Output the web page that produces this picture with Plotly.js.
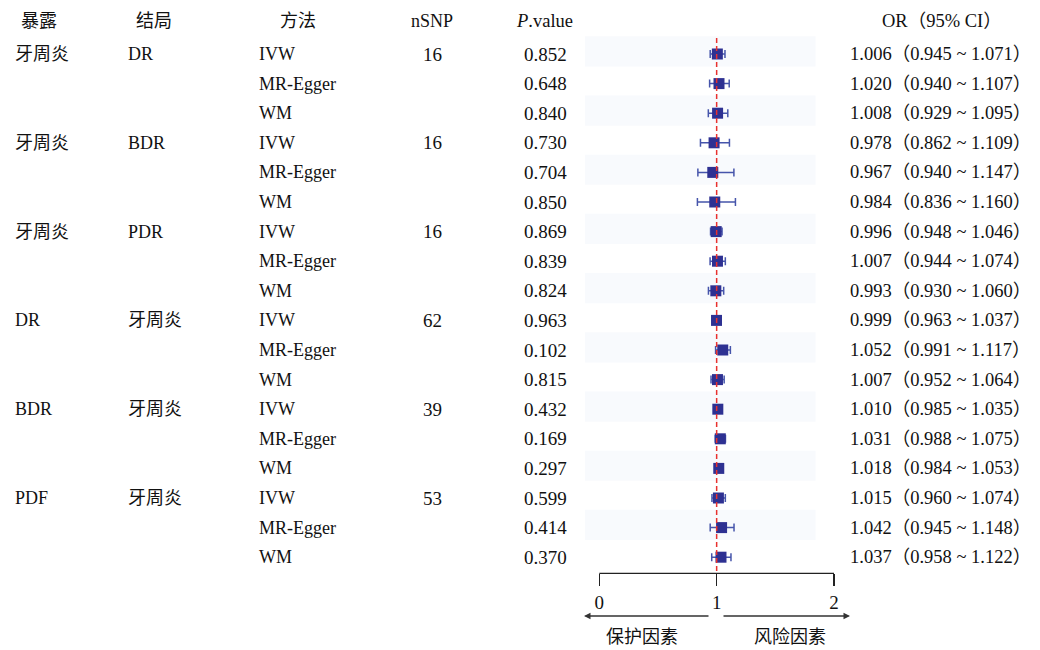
<!DOCTYPE html>
<html>
<head>
<meta charset="utf-8">
<script src="https://cdn.plot.ly/plotly-3.0.1.min.js"></script>
<style>
html,body{margin:0;padding:0;background:#fff;}
#chart{width:1040px;height:650px;}
</style>
</head>
<body>
<div id="chart"></div>
<script>
// ---------- data ----------
const headers = ['暴露', '结局', '方法', 'nSNP', '<i>P</i>.value', 'OR（95% CI）'];
const exposures = ['牙周炎', '牙周炎', '牙周炎', 'DR', 'BDR', 'PDF'];
const outcomes  = ['DR', 'BDR', 'PDR', '牙周炎', '牙周炎', '牙周炎'];
const nSNP      = [16, 16, 16, 62, 39, 53];
const methods   = ['IVW', 'MR-Egger', 'WM'];
const pValues   = ['0.852','0.648','0.840','0.730','0.704','0.850','0.869','0.839','0.824',
                   '0.963','0.102','0.815','0.432','0.169','0.297','0.599','0.414','0.370'];
const orLabels  = ['1.006（0.945 ~ 1.071）','1.020（0.940 ~ 1.107）','1.008（0.929 ~ 1.095）',
                   '0.978（0.862 ~ 1.109）','0.967（0.940 ~ 1.147）','0.984（0.836 ~ 1.160）',
                   '0.996（0.948 ~ 1.046）','1.007（0.944 ~ 1.074）','0.993（0.930 ~ 1.060）',
                   '0.999（0.963 ~ 1.037）','1.052（0.991 ~ 1.117）','1.007（0.952 ~ 1.064）',
                   '1.010（0.985 ~ 1.035）','1.031（0.988 ~ 1.075）','1.018（0.984 ~ 1.053）',
                   '1.015（0.960 ~ 1.074）','1.042（0.945 ~ 1.148）','1.037（0.958 ~ 1.122）'];
const orValue   = [1.006,1.020,1.008,0.978,0.967,0.984,0.996,1.007,0.993,0.999,1.052,1.007,1.010,1.031,1.018,1.015,1.042,1.037];
const ciLow     = [0.945,0.940,0.929,0.862,0.840,0.836,0.948,0.944,0.930,0.963,0.991,0.952,0.985,0.988,0.984,0.960,0.945,0.958];
const ciHigh    = [1.071,1.107,1.095,1.109,1.147,1.160,1.046,1.074,1.060,1.037,1.117,1.064,1.035,1.075,1.053,1.074,1.148,1.122];
const axisTicks = [0, 1, 2];
const bottomLabels = ['保护因素', '风险因素'];

// ---------- geometry ----------
const W = 1040, H = 650;
const px0 = 599.3, pxPerUnit = 117.35;      // x: pixel of value 0, pixels per unit
const row0 = 54, rowStep = 29.6;            // y: pixel of first row, row spacing
const xr = [(0 - px0) / pxPerUnit, (W - px0) / pxPerUnit];
const yr = [1 + (H - row0) / rowStep, 1 + (0 - row0) / rowStep];
const rowOfPx = p => 1 + (p - row0) / rowStep;
const xOfPx = p => (p - px0) / pxPerUnit;

const FONT = '"Liberation Serif", "Noto Sans CJK SC", serif';
const TXT = '#111111';
const rows = orValue.map((_, i) => i + 1);

const ann = [];
function txt(text, xpx, y, anchor, size, extra) {
  ann.push(Object.assign({
    text: text, xref: 'paper', yref: 'y', x: xpx / W, y: y,
    xanchor: anchor, yanchor: 'middle', showarrow: false,
    font: {family: FONT, size: size, color: TXT}
  }, extra || {}));
}

// headers
const headerY = rowOfPx(21);
const headerX = [38.7, 153.5, 298, 432, 544, 942];
const headerSize = [18, 18, 18, 18, 18.5, 18.5];
headers.forEach((h, k) => txt(h, headerX[k], headerY, 'center', headerSize[k]));

// group columns
exposures.forEach((e, g) => {
  const r = g * methods.length + 1;
  txt(e, 12.7, r, 'left', 18);
  txt(outcomes[g], 126, r, 'left', 18);
  txt(String(nSNP[g]), 432.5, r, 'center', 19);
});
// row columns
rows.forEach((r, i) => {
  txt(methods[i % methods.length], 256.7, r, 'left', 18);
  txt(pValues[i], 545.5, r, 'center', 19);
  txt(orLabels[i], 940, r, 'center', 18.5);
});

// bottom labels
const botY = rowOfPx(637);
txt(bottomLabels[0], 0, botY, 'center', 18, {xref: 'x', x: xOfPx(642)});
txt(bottomLabels[1], 0, botY, 'center', 18, {xref: 'x', x: xOfPx(790)});

// arrows
const arrowY = rowOfPx(616);
const arrowStyle = {text: '', showarrow: true, arrowhead: 2, arrowsize: 1, arrowwidth: 1.3,
  arrowcolor: '#333', xref: 'x', yref: 'y', axref: 'x', ayref: 'y', standoff: 0, startstandoff: 0};
ann.push(Object.assign({}, arrowStyle, {x: xOfPx(584), y: arrowY, ax: xOfPx(710), ay: arrowY}));
ann.push(Object.assign({}, arrowStyle, {x: xOfPx(850), y: arrowY, ax: xOfPx(722), ay: arrowY}));

// shapes
const shapes = [];
rows.forEach(r => {
  if (r % 2 === 1) {
    shapes.push({type: 'rect', layer: 'below', xref: 'x', yref: 'y',
      x0: xOfPx(585), x1: xOfPx(815.5), y0: r - 0.6, y1: r + 0.42,
      fillcolor: '#f8fafd', line: {width: 0}});
  }
});
const axisPos = 1 - 573.3 / H;
shapes.push({type: 'line', xref: 'x', yref: 'paper', x0: axisTicks[0], x1: axisTicks[axisTicks.length - 1],
  y0: axisPos, y1: axisPos, line: {color: '#222', width: 1.3}});
shapes.push({type: 'line', xref: 'x', yref: 'paper', x0: 1, x1: 1,
  y0: 1 - 571 / H, y1: 1 - 36 / H, line: {color: '#e8312f', width: 1.5, dash: '5px,3px'}});

const trace = {
  type: 'scatter', mode: 'markers', x: orValue, y: rows,
  marker: {symbol: 'square', size: 11, color: '#2e3192', line: {width: 0}},
  error_x: {type: 'data', symmetric: false,
    array: ciHigh.map((h, i) => h - orValue[i]),
    arrayminus: ciLow.map((l, i) => orValue[i] - l),
    color: '#4655ab', thickness: 1.5, width: 4},
  hoverinfo: 'skip', showlegend: false
};

const layout = {
  width: W, height: H, margin: {l: 0, r: 0, t: 0, b: 0},
  paper_bgcolor: '#fff', plot_bgcolor: '#fff', showlegend: false,
  xaxis: {domain: [0, 1], range: xr, showgrid: false, zeroline: false, showline: false,
    ticks: 'outside', ticklen: 12, tickwidth: 1.3, tickcolor: '#222',
    tickvals: axisTicks, ticktext: axisTicks.map(String),
    tickfont: {family: FONT, size: 19, color: TXT},
    anchor: 'free', position: axisPos, fixedrange: true},
  yaxis: {domain: [0, 1], range: yr, visible: false, showgrid: false, zeroline: false, fixedrange: true},
  annotations: ann, shapes: shapes
};

Plotly.newPlot('chart', [trace], layout, {displayModeBar: false, staticPlot: true});
</script>
</body>
</html>
